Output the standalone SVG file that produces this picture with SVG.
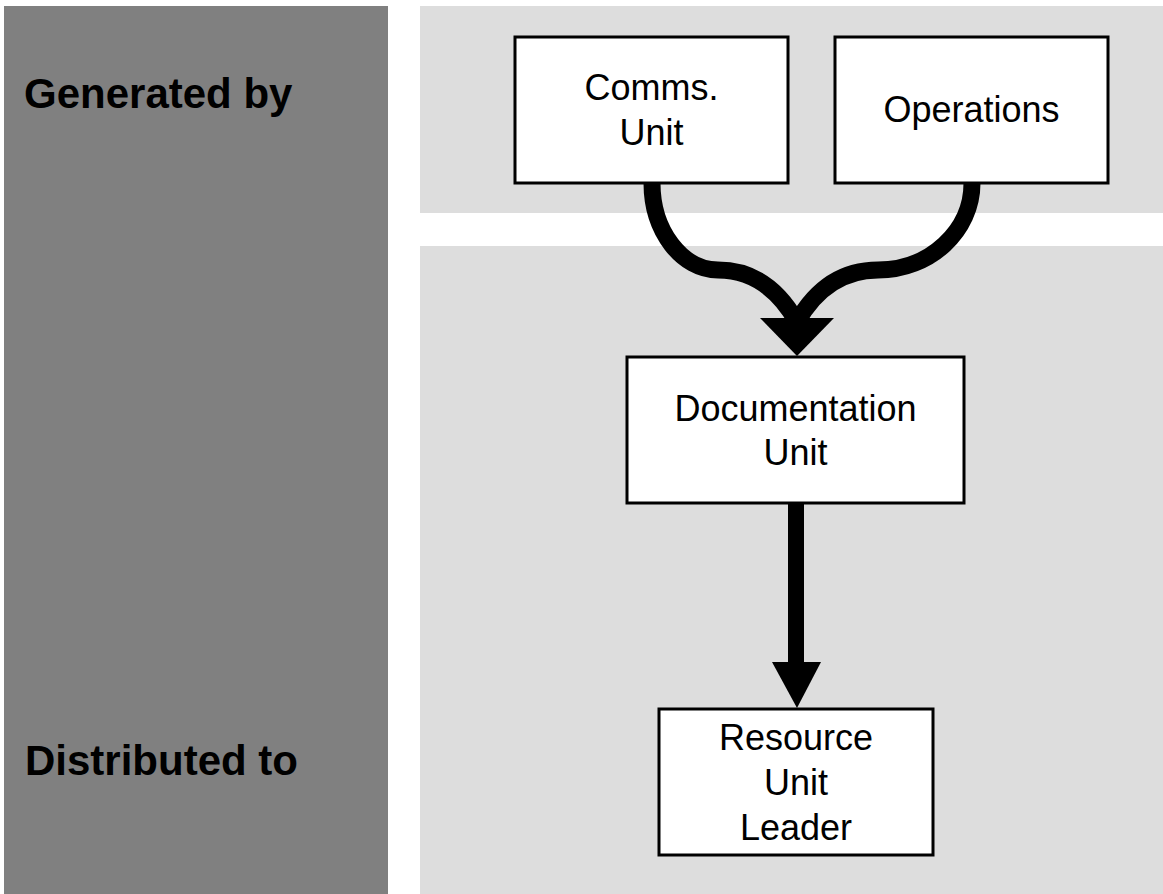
<svg xmlns="http://www.w3.org/2000/svg" width="1163" height="894" viewBox="0 0 1163 894">
<style>
.lbl{font-family:"Liberation Sans",Arial,sans-serif;font-size:42px;font-weight:bold;fill:#000}
.box{fill:#fff;stroke:#000;stroke-width:3}
.txt{font-family:"Liberation Sans",Arial,sans-serif;font-size:36px;fill:#000;text-anchor:middle}
.con{fill:none;stroke:#000;stroke-width:17}
.head{fill:#000}
</style>
<rect width="1163" height="894" fill="#fff"/>
<g id="panels">
<rect x="4" y="6" width="384" height="888" fill="#808080"/>
<rect x="420" y="6" width="743" height="207" fill="#dddddd"/>
<rect x="420" y="246" width="743" height="648" fill="#dddddd"/>
<text class="lbl" x="24" y="108">Generated by</text>
<text class="lbl" x="25" y="775">Distributed to</text>
</g>
<g id="connectors">
<path class="con" d="M652,183 C652,231 682,270 718,270 C755,270 780,292 797,322"/>
<path class="con" d="M972,183 C972,231 930,270 878,270 C840,270 814,292 797,322"/>
<polygon class="head" points="760,318 834,318 797,356"/>
<line x1="796" y1="503" x2="796" y2="664" stroke="#000" stroke-width="16"/>
<polygon class="head" points="772,662 821,662 797,708"/>
</g>
<g id="comms">
<rect class="box" x="515" y="37" width="273" height="146"/>
<text class="txt" x="651.5" y="100">Comms.</text>
<text class="txt" x="651.5" y="145">Unit</text>
</g>
<g id="operations">
<rect class="box" x="835" y="37" width="273" height="146"/>
<text class="txt" x="971.5" y="122">Operations</text>
</g>
<g id="documentation">
<rect class="box" x="627" y="357" width="337" height="146"/>
<text class="txt" x="795.5" y="421">Documentation</text>
<text class="txt" x="795.5" y="465">Unit</text>
</g>
<g id="resource">
<rect class="box" x="659" y="709" width="274" height="146"/>
<text class="txt" x="796" y="750">Resource</text>
<text class="txt" x="796" y="795">Unit</text>
<text class="txt" x="796" y="840">Leader</text>
</g>
</svg>
